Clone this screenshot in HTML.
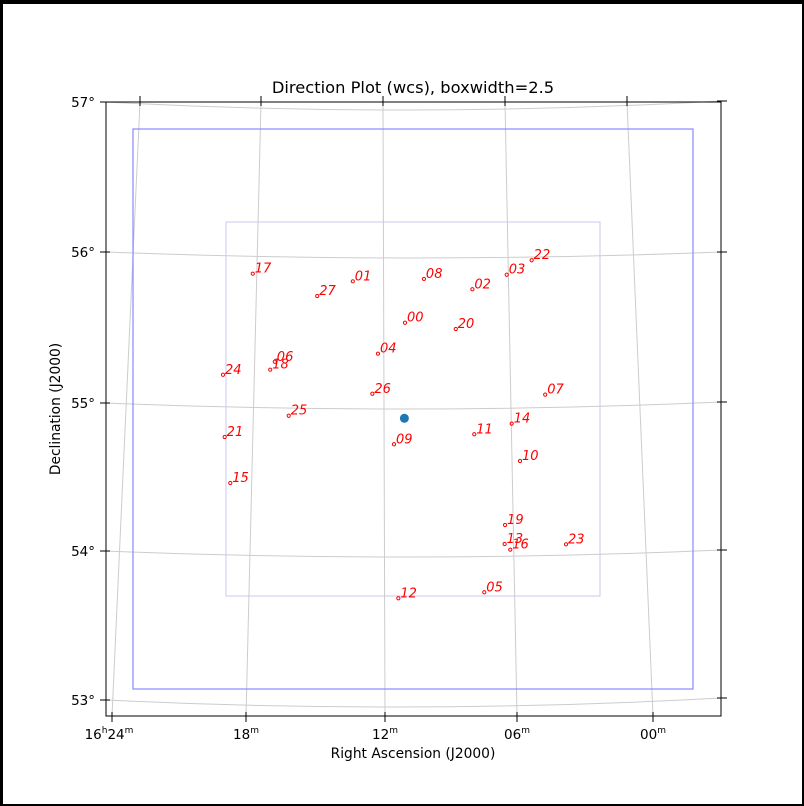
<!DOCTYPE html>
<html><head><meta charset="utf-8"><style>
html,body{margin:0;padding:0;background:#000;}
#wrap{position:relative;width:804px;height:806px;}
svg{position:absolute;left:0;top:0;}
text{font-family:"DejaVu Sans","Liberation Sans",sans-serif;}
</style></head><body>
<div id="wrap">
<svg id="chart" width="804" height="806">
<rect x="3" y="4" width="799" height="800" fill="#fff"/>
<text x="413" y="93" font-size="16.3" text-anchor="middle" fill="#000">Direction Plot (wcs), boxwidth=2.5</text>
<g id="grid"></g>
<rect x="133" y="129" width="560" height="560" fill="none" stroke="#8888ff" stroke-width="1.2"/>
<rect x="226" y="222" width="374" height="374" fill="none" stroke="#c8c8f0" stroke-width="1"/>
<g id="marks"></g>
<rect x="106" y="102" width="615" height="614" fill="none" stroke="#000" stroke-width="1"/>
<g id="ticks"></g>
<text transform="translate(60,409) rotate(-90)" font-size="13.8" text-anchor="middle">Declination (J2000)</text>
<text x="413" y="758" font-size="13.8" text-anchor="middle">Right Ascension (J2000)</text>
</svg>
</div>
<script>
// RA in minutes past 16h, Dec in degrees
const labels = ["17","01","27","08","02","03","22","00","20","04","06","18","24","26","07","25","14","11","21","09","10","15","19","13","16","23","05","12"];
const raMin = [18.31,13.50,15.21,10.08,7.75,6.10,4.90,10.99,8.55,12.29,17.25,17.47,19.74,12.56,4.25,16.58,5.86,7.66,19.66,11.52,5.46,19.39,6.18,6.20,5.93,3.25,7.18,11.31];
const decDeg = [55.905,55.854,55.756,55.870,55.801,55.898,55.995,55.577,55.535,55.370,55.316,55.263,55.229,55.102,55.096,54.955,54.902,54.831,54.813,54.764,54.652,54.505,54.224,54.097,54.059,54.095,53.774,53.734];
const centerRa = [11.02];
const centerDec = [54.938];
const decTicks = ["57°","56°","55°","54°","53°"];
const raTicks = ["24","18","12","06","00"];

function xOf(ra){ return 384 + (12 - ra) * 20.8; }
function yOf(dec){ return 409 - (dec - 55) * 149.5; }
const NS = "http://www.w3.org/2000/svg";
function mk(tag, attrs, parent){ const e=document.createElementNS(NS,tag); for(const k in attrs) e.setAttribute(k,attrs[k]); parent.appendChild(e); return e; }

const grid=document.getElementById('grid');
const ticks=document.getElementById('ticks');
const decL=[102,252,403,551,700], decR=[101,252,402,550,698], decMid=[110,258,409,557,707];
for(let i=0;i<5;i++){
  const cy = 2*decMid[i] - (decL[i]+decR[i])/2;
  const p=mk('path',{d:`M106 ${decL[i]} Q413 ${cy} 721 ${decR[i]}`,fill:'none',stroke:'#cccccc','stroke-width':1},grid);
  
  
  const t1=mk('line',{x1:100,y1:decL[i],x2:110,y2:decL[i],stroke:'#000'},ticks);
  
  
  const t2=mk('line',{x1:717,y1:decR[i],x2:727,y2:decR[i],stroke:'#000'},ticks);
  
  
  const tl=mk('text',{x:95,y:decL[i]+5,'font-size':13.5,'text-anchor':'end'},ticks);
  tl.textContent=decTicks[i];
  
  
}
const raTop=[140,261,383,505,627], raBot=[112,246,385,517,653];
for(let i=0;i<5;i++){
  const l=mk('line',{x1:raTop[i],y1:102,x2:raBot[i],y2:716,stroke:'#cccccc','stroke-width':1},grid);
  
  
  const t1=mk('line',{x1:raTop[i],y1:96,x2:raTop[i],y2:106,stroke:'#000'},ticks);
  
  
  const t2=mk('line',{x1:raBot[i],y1:712,x2:raBot[i],y2:722,stroke:'#000'},ticks);
  
  
  const tl=mk('text',{x:raBot[i]+(i===0?-3:0),y:739,'font-size':13.5,'text-anchor':'middle'},ticks);
  tl.innerHTML = (i===0?'16<tspan dy="-6" font-size="9">h</tspan><tspan dy="6">':'<tspan>')+raTicks[i]+'</tspan><tspan dy="-6" font-size="9">m</tspan>';
  
  
}
const marks=document.getElementById('marks');
for(let i=0;i<labels.length;i++){
  const x=xOf(raMin[i]), y=yOf(decDeg[i]);
  const c=mk('circle',{cx:x,cy:y,r:1.6,fill:'none',stroke:'#ff0000','stroke-width':1},marks);
  
  
  const t=mk('text',{x:x+2,y:y-1,'font-size':13,'font-style':'italic',fill:'#ff0000'},marks);
  t.textContent=labels[i];
  
  
}
const cc=mk('circle',{cx:xOf(centerRa[0]),cy:yOf(centerDec[0]),r:4.5,fill:'#1f77b4'},marks);


</script>
</body></html>
